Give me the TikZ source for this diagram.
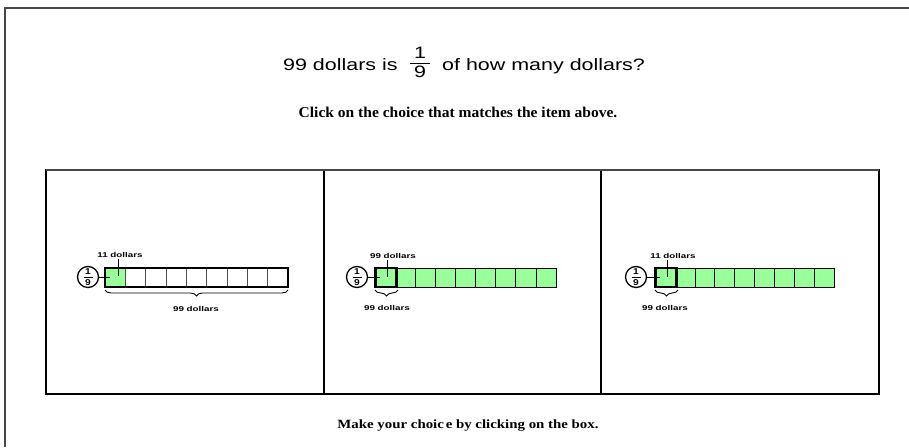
\documentclass[tikz,border=0pt]{standalone}
\usepackage{fontspec}
\usepackage{graphicx}
\setmainfont{Liberation Sans}
\newfontfamily\tnr{Liberation Serif}
\usetikzlibrary{decorations.pathreplacing}
\definecolor{cellgreen}{RGB}{153,255,153}
\definecolor{framegray}{RGB}{70,70,70}
\tikzset{
  ring/.style={circle,draw,line width=1.3pt,minimum size=21pt,inner sep=0pt},
  fdig/.style={font=\bfseries\fontsize{8.5}{8.5}\selectfont,inner sep=0pt},
  tiny/.style={font=\bfseries\fontsize{7}{8}\selectfont,inner sep=0pt,anchor=base},
  cellw/.style={draw=black!70,line width=0.5pt,fill=white},
  cellg/.style={draw=black,line width=0.6pt,fill=cellgreen},
  thickbox/.style={draw=black,line width=2.4pt},
  lead/.style={draw=black,line width=0.8pt},
  brc/.style={draw=black,line width=0.9pt,decorate,decoration={brace,mirror,amplitude=6pt}},
  panel/.style={draw=black,line width=1.1pt},
  big/.style={anchor=base west,inner sep=0pt,font=\fontsize{16.5}{20}\selectfont},
}
\newcommand{\hs}[2]{\scalebox{#1}[1]{#2}}
\newcommand{\ringfrac}[2]{%
  \node[ring] (#1) at (#2) {};
  \node[fdig] (#1n) at ([yshift=5pt]#1.center) {\hs{1.2}{1}};
  \node[fdig] (#1d) at ([yshift=-5.5pt]#1.center) {\hs{1.2}{9}};
  \draw[line width=0.8pt] ([xshift=-4.5pt]#1.center) -- ([xshift=4.5pt]#1.center);
}
\begin{document}
\begin{tikzpicture}[x=1pt,y=-1pt]
\useasboundingbox (0,0) rectangle (909,447);
% outer frame
\draw[framegray,line width=2.5pt] (5,447) -- (5,8) -- (909,8);
% title
\node[big] (tl) at (283,70) {\hs{1.3}{99 dollars is}};
\node[big,anchor=center] (tn) at (420,52.5) {\hs{1.3}{1}};
\node[big,anchor=center] (td) at (420,71.5) {\hs{1.3}{9}};
\draw[line width=0.9pt] (410,63) -- (430,63);
\node[big] (tr) at (442,70) {\hs{1.3}{of how many dollars?}};
\node[anchor=base,inner sep=0pt,font=\tnr\bfseries\fontsize{15}{18}\selectfont] (click) at (458,117)
  {\hs{1.035}{Click on the choice that matches the item above.}};
\node[anchor=base,inner sep=0pt,font=\tnr\bfseries\fontsize{12.6}{15}\selectfont] (make) at (468,428.5)
  {\hs{1.18}{Make your choic\kern1.5pt e by clicking on the box.}};
% panels
\draw[panel] (46,170) rectangle (879,394);
\draw[panel] (324,170) -- (324,394);
\draw[panel] (601,170) -- (601,394);
\draw[framegray,line width=1.8pt] (46,170) -- (879,170);
% ---------- panel 1
\foreach \i in {0,...,8}{
  \pgfmathsetmacro{\xa}{105+\i*20.33}
  \pgfmathsetmacro{\xb}{105+(\i+1)*20.33}
  \ifnum\i=0
    \fill[cellgreen] (\xa,268) rectangle (\xb,287);
    \draw[cellw,fill=none] (\xa,268) rectangle (\xb,287);
  \else
    \draw[cellw] (\xa,268) rectangle (\xb,287);
  \fi
}
\draw[thickbox] (105,268) rectangle (288,287);
\ringfrac{c1}{88,277}
\coordinate (b1) at (110,277);
\draw[lead] (c1.east) -- (b1);
\node[tiny] (t1) at (120,257) {\hs{1.4}{11 dollars}};
\coordinate (t1e) at (118,276);
\draw[lead] (118,258.5) -- (t1e);
\coordinate (br1a) at (105,290);
\coordinate (br1b) at (288,290);
\draw[brc] (br1a) -- (br1b);
\node[tiny] (u1) at (196,311) {\hs{1.4}{99 dollars}};
% ---------- panel 2
\foreach \i in {0,...,8}{
  \pgfmathsetmacro{\xa}{375+\i*20.1}
  \pgfmathsetmacro{\xb}{375+(\i+1)*20.1}
  \draw[cellg] (\xa,268) rectangle (\xb,287);
}
\draw[thickbox] (375.5,268) rectangle (397,287);
\ringfrac{c2}{357,277}
\coordinate (b2) at (380,277);
\draw[lead] (c2.east) -- (b2);
\node[tiny] (t2) at (393,258) {\hs{1.4}{99 dollars}};
\coordinate (t2e) at (387,277);
\draw[lead] (387,259.5) -- (t2e);
\coordinate (br2a) at (375,290);
\coordinate (br2b) at (398,290);
\draw[brc] (br2a) -- (br2b);
\node[tiny] (u2) at (387,310) {\hs{1.4}{99 dollars}};
% ---------- panel 3
\foreach \i in {0,...,8}{
  \pgfmathsetmacro{\xa}{655+\i*19.9}
  \pgfmathsetmacro{\xb}{655+(\i+1)*19.9}
  \draw[cellg] (\xa,268) rectangle (\xb,287);
}
\draw[thickbox] (655.5,268) rectangle (677,287);
\ringfrac{c3}{636,277}
\coordinate (b3) at (660,277);
\draw[lead] (c3.east) -- (b3);
\node[tiny] (t3) at (673,258) {\hs{1.4}{11 dollars}};
\coordinate (t3e) at (667,277);
\draw[lead] (667,259.5) -- (t3e);
\coordinate (br3a) at (655,290);
\coordinate (br3b) at (678,290);
\draw[brc] (br3a) -- (br3b);
\node[tiny] (u3) at (665,310) {\hs{1.4}{99 dollars}};
\end{tikzpicture}
\end{document}
